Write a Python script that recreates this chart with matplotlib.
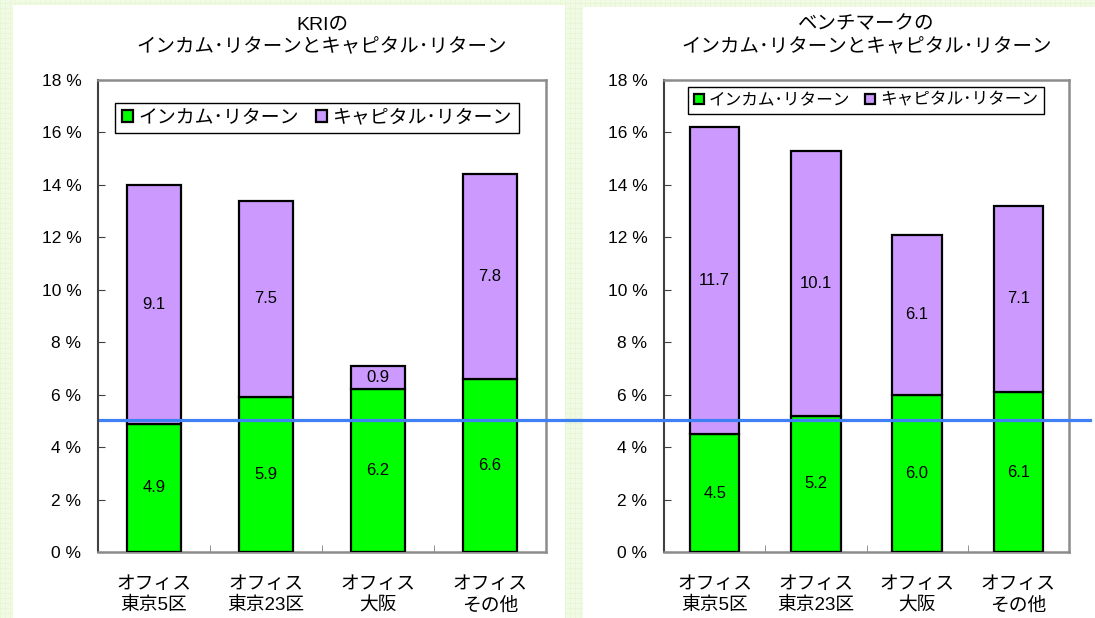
import matplotlib
matplotlib.use("Agg")
import matplotlib.pyplot as plt
from matplotlib.patches import Rectangle
from matplotlib.lines import Line2D
import matplotlib.transforms as mtransforms

plt.rcParams['font.family'] = ['Liberation Sans', 'Noto Sans CJK JP', 'DejaVu Sans']

categories = ["オフィス\n東京5区", "オフィス\n東京23区", "オフィス\n大阪", "オフィス\nその他"]
kri_income = [4.9, 5.9, 6.2, 6.6]
kri_capital = [9.1, 7.5, 0.9, 7.8]
bm_income = [4.5, 5.2, 6.0, 6.1]
bm_capital = [11.7, 10.1, 6.1, 7.1]
ref_level = 5.05
yticks = [0, 2, 4, 6, 8, 10, 12, 14, 16, 18]
titles = ["KRIの\nインカム･リターンとキャピタル･リターン",
          "ベンチマークの\nインカム･リターンとキャピタル･リターン"]
legend_labels = ["インカム･リターン", "キャピタル･リターン"]

GREEN = "#00FF00"
PURPLE = "#CC99FF"
W, H = 1095, 618

fig = plt.figure(figsize=(W / 100, H / 100), dpi=100)
fig.patch.set_facecolor("#F1FAE4")

# faint grid texture of the background
for px in range(0, W, 5):
    fig.lines.append(Line2D([px / W, px / W], [0, 1], transform=fig.transFigure,
                            color="#E3F5CD", linewidth=0.4, zorder=-10))
for py in range(0, H, 5):
    fig.lines.append(Line2D([0, 1], [py / H, py / H], transform=fig.transFigure,
                            color="#E3F5CD", linewidth=0.4, zorder=-10))

# white panels
for x0, y0, x1, y1 in [(13, 5, 565, 618), (583, 7, 1095, 618)]:
    fig.patches.append(Rectangle((x0 / W, 1 - y1 / H), (x1 - x0) / W, (y1 - y0) / H,
                                 transform=fig.transFigure, facecolor="white",
                                 edgecolor="none", zorder=-5))

ax1 = fig.add_axes([98 / W, 1 - 552 / H, 448 / W, 472 / H])
ax2 = fig.add_axes([664 / W, 1 - 552 / H, 405 / W, 472 / H])
ax1.set_zorder(2)
ax2.set_zorder(1)
ax1.patch.set_alpha(0)
ax2.patch.set_alpha(0)


def draw(ax, income, capital, title, legend_size, legend_anchor):
    x = range(len(categories))
    b1 = ax.bar(x, income, width=0.49, color=GREEN, edgecolor="black", linewidth=1.6,
                label=legend_labels[0], zorder=3)
    b2 = ax.bar(x, capital, width=0.49, bottom=income, color=PURPLE, edgecolor="black",
                linewidth=1.6, label=legend_labels[1], zorder=3)
    for i in x:
        ax.text(i, income[i] / 2, f"{income[i]:.1f}", ha="center", va="center",
                fontsize=12, zorder=4)
        ax.text(i, income[i] + capital[i] / 2, f"{capital[i]:.1f}", ha="center",
                va="center", fontsize=12, zorder=4)
    ax.set_xlim(-0.5, len(categories) - 0.5)
    ax.set_ylim(0, 18)
    ax.set_yticks(yticks)
    ax.set_yticklabels([f"{v} %" for v in yticks], fontsize=12.5)
    ax.set_xticks(list(x))
    ax.set_xticklabels(categories, fontsize=13.5, linespacing=1.35)
    ax.set_xticks([i + 0.5 for i in range(len(categories) - 1)], minor=True)
    ax.tick_params(axis="x", which="major", length=0, pad=17)
    ax.tick_params(axis="x", which="minor", direction="in", length=5, color="#808080")
    ax.tick_params(axis="y", direction="in", length=5, pad=12, color="#404040")
    for s in ["top", "right", "bottom"]:
        ax.spines[s].set_color("#8C8C8C")
        ax.spines[s].set_linewidth(1.8)
    ax.spines["left"].set_color("#404040")
    ax.spines["left"].set_linewidth(1.5)
    ax.set_title(title, fontsize=14, linespacing=1.4, pad=20)
    leg = ax.legend(handles=[b1, b2], loc="upper left", bbox_to_anchor=legend_anchor,
                    borderaxespad=0, ncol=2, fontsize=legend_size, fancybox=False,
                    edgecolor="black", framealpha=1, handlelength=0.6,
                    handleheight=0.6, handletextpad=0.3, columnspacing=0.9,
                    borderpad=0.35)
    leg.get_frame().set_linewidth(1.0)
    leg.set_zorder(5)


draw(ax1, kri_income, kri_capital, titles[0], 13.6, (0.038, 0.951))
draw(ax2, bm_income, bm_capital, titles[1], 12, (0.059, 0.985))

# reference line across both panels
trans = mtransforms.blended_transform_factory(ax1.transAxes, ax1.transData)
ax1.plot([0.004, 2.214], [ref_level, ref_level], transform=trans, color="#3F80F5",
         linewidth=2.3, clip_on=False, zorder=10)

fig.savefig("out.png", dpi=100, facecolor=fig.get_facecolor())
